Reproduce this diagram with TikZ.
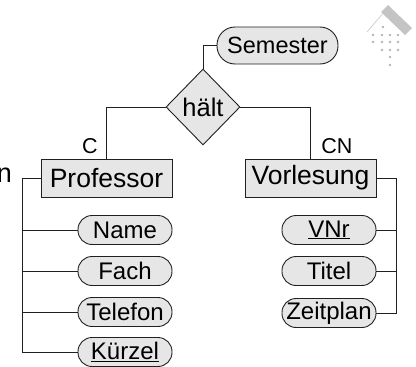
\documentclass[tikz,border=0pt]{standalone}
\usepackage{fontspec}
\setmainfont{Liberation Sans}
\usetikzlibrary{shapes.geometric}
\definecolor{boxfill}{HTML}{E6E6E6}
\definecolor{linecol}{HTML}{202020}
\definecolor{logogray}{HTML}{C4C4C4}
\definecolor{dotgray}{HTML}{B4B4B4}
\begin{document}
\begin{tikzpicture}[x=1pt,y=-1pt,
  entity/.style={draw=linecol,fill=boxfill,line width=0.9pt,inner sep=0pt,
    minimum width=131pt,minimum height=38pt,font=\fontsize{26.5}{30}\selectfont},
  attr/.style={draw=linecol,fill=boxfill,line width=0.9pt,inner sep=0pt,
    rounded corners=14pt,minimum width=94pt,minimum height=29pt,
    font=\fontsize{24}{28}\selectfont},
  rel/.style={draw=linecol,fill=boxfill,line width=0.9pt,shape=diamond,inner sep=0pt,
    minimum width=74pt,minimum height=76pt,font=\fontsize{25.5}{30}\selectfont},
  conn/.style={draw=linecol,line width=0.9pt},
  card/.style={inner sep=0pt,font=\fontsize{21.5}{25}\selectfont}]
\useasboundingbox (0,0) rectangle (416,367);

% relationship and its attribute
\node[rel] (halt) at (203,107) {hält};
\node[attr,minimum width=121pt,minimum height=37pt,rounded corners=18pt,
  font=\fontsize{23.5}{28}\selectfont] (sem) at (277.5,45.5) {Semester};

% entities
\node[entity] (prof) at (106.5,178) {Professor};
\node[entity] (vorl) at (310.5,178) {Vorlesung};

% Professor attributes
\node[attr] (name) at (125,230) {Name};
\node[attr] (fach) at (125,271) {Fach};
\node[attr] (tel)  at (125,312) {Telefon};
\node[attr] (kz)   at (125,352) {\underline{Kürzel}};

% Vorlesung attributes
\node[attr] (vnr)  at (329,230) {\underline{VNr}};
\node[attr] (tit)  at (329,271) {Titel};
\node[attr] (zp)   at (329,313) {Zeitplan};

% cardinalities
\node[card] (cl) at (90,146) {C};
\node[card] (cnl) at (337,146) {CN};

% word running off the left edge
\node[inner sep=0pt,anchor=base east,font=\fontsize{27}{30}\selectfont] (cut) at (12,182) {n};

% connectors
\draw[conn] (sem.west) -| (halt.north);
\draw[conn] (halt.west) -| (prof.north);
\draw[conn] (halt.east) -| (vorl.north);

\coordinate (lbus) at (22,178);
\draw[conn] (prof.west) -- (lbus) |- (kz.west);
\draw[conn] (lbus |- name.west) -- (name.west);
\draw[conn] (lbus |- fach.west) -- (fach.west);
\draw[conn] (lbus |- tel.west) -- (tel.west);

\coordinate (rbus) at (396,178);
\draw[conn] (vorl.east) -- (rbus) |- (zp.east);
\draw[conn] (rbus |- vnr.east) -- (vnr.east);
\draw[conn] (rbus |- tit.east) -- (tit.east);

% house logo
\draw[logogray!80,line width=0.8pt] (367,32) -- (385,11);
\fill[logogray] (381,12) -- (388,5) -- (412,28) -- (405,35) -- cycle;
\foreach \px/\py in {383/27,
  373/35,382/35,390/35,398/35,
  373/42,382/42,390/42,398/42,
  382/50,390/50,398/50,
  390/57,390/65}
  \fill[dotgray] (\px,\py) circle (1.3);
\end{tikzpicture}
\end{document}
